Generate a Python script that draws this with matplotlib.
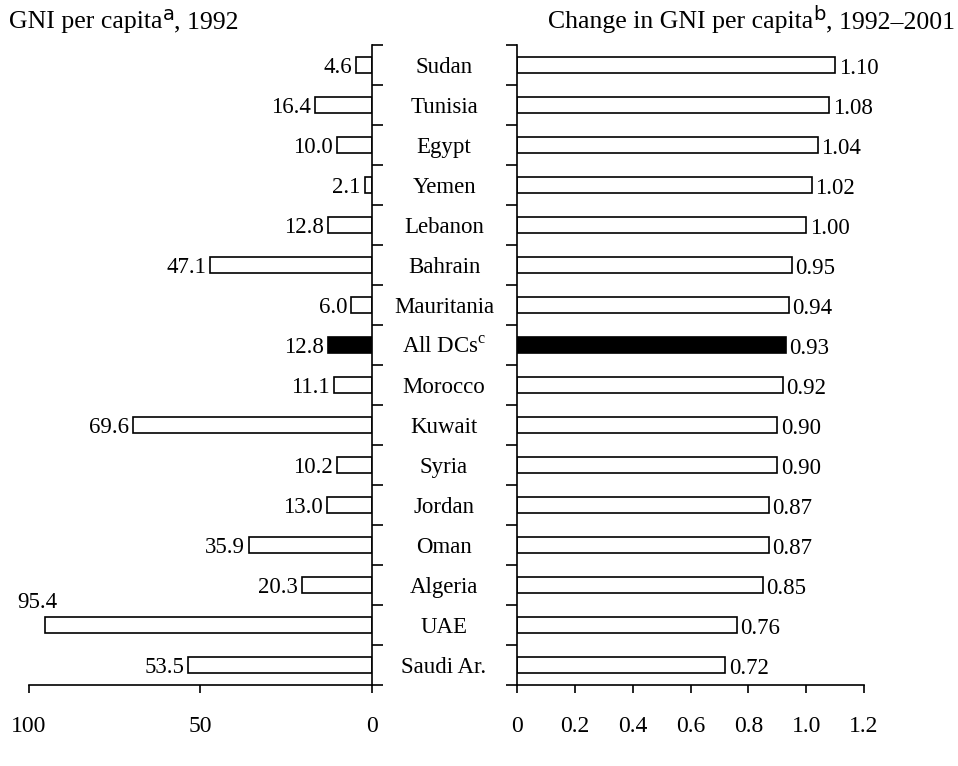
import matplotlib.pyplot as plt
import matplotlib.transforms as mtransforms
import numpy as np

plt.rcParams['font.family'] = 'Liberation Serif'
plt.rcParams['mathtext.fontset'] = 'custom'
plt.rcParams['mathtext.rm'] = 'Liberation Serif'

countries = ['Sudan', 'Tunisia', 'Egypt', 'Yemen', 'Lebanon', 'Bahrain',
             'Mauritania', 'All DCs$^{\\mathrm{c}}$', 'Morocco', 'Kuwait', 'Syria',
             'Jordan', 'Oman', 'Algeria', 'UAE', 'Saudi Ar.']
gni_1992 = [4.6, 16.4, 10.0, 2.1, 12.8, 47.1, 6.0, 12.8, 11.1, 69.6, 10.2,
            13.0, 35.9, 20.3, 95.4, 53.5]
gni_change = [1.10, 1.08, 1.04, 1.02, 1.00, 0.95, 0.94, 0.93, 0.92, 0.90,
              0.90, 0.87, 0.87, 0.85, 0.76, 0.72]
highlight = 7  # All DCs

fig = plt.figure(figsize=(9.58, 7.66), dpi=100)
ax_l = fig.add_axes([0.030, 0.1057, 0.358, 0.8355])
ax_r = fig.add_axes([0.5397, 0.1057, 0.3622, 0.8355])

y = np.arange(len(countries))
colors = ['black' if i == highlight else 'white' for i in y]
fs = 16.5
lw = 1.2

ax_l.barh(y, gni_1992, height=0.42, color=colors, edgecolor='black', linewidth=lw)
ax_r.barh(y, gni_change, height=0.42, color=colors, edgecolor='black', linewidth=lw)

for i, v in enumerate(gni_1992):
    if v > 90:
        ax_l.text(v + 2.0, i - 0.3, f'{v:.1f}', ha='center', va='bottom', fontsize=fs)
    else:
        ax_l.text(v + 1.2, i + 0.05, f'{v:.1f}', ha='right', va='center', fontsize=fs)
for i, v in enumerate(gni_change):
    ax_r.text(v + 0.012, i + 0.08, f'{v:.2f}', ha='left', va='center', fontsize=fs)

for ax in (ax_l, ax_r):
    ax.set_ylim(15.5, -0.5)
    ax.set_yticks(np.arange(-0.5, 16, 1))
    ax.set_yticklabels([])
    ax.spines['top'].set_visible(False)
    ax.tick_params(axis='y', length=8, width=lw, direction='out')
    ax.tick_params(axis='x', length=6, width=lw, direction='out', pad=16, labelsize=17)
    for s in ax.spines.values():
        s.set_linewidth(lw)

ax_l.set_xlim(100, 0)
ax_l.set_xticks([100, 50, 0])
ax_l.spines['left'].set_visible(False)
ax_l.yaxis.tick_right()

ax_r.set_xlim(0, 1.2)
ax_r.set_xticks([0, 0.2, 0.4, 0.6, 0.8, 1.0, 1.2])
ax_r.set_xticklabels(['0', '0.2', '0.4', '0.6', '0.8', '1.0', '1.2'])
ax_r.spines['right'].set_visible(False)

trans = mtransforms.blended_transform_factory(fig.transFigure, ax_l.transData)
for i, name in enumerate(countries):
    ax_l.text(0.4635, i + 0.05, name, transform=trans, ha='center', va='center',
              fontsize=fs, clip_on=False)


# titles with a full-size sans superscript, built piece by piece
def title(parts, x0, align='left'):
    renderer = fig.canvas.get_renderer()
    base_y = 766 - 28  # baseline in pixels
    texts = []
    for s, sup in parts:
        if sup:
            t = fig.text(0, 0, s, fontsize=14, family='DejaVu Sans',
                         va='baseline', transform=None)
        else:
            t = fig.text(0, 0, s, fontsize=18.5, va='baseline', transform=None)
        texts.append((t, sup))
    widths = [t.get_window_extent(renderer).width for t, _ in texts]
    x = x0 if align == 'left' else x0 - sum(widths)
    for (t, sup), w in zip(texts, widths):
        t.set_position((x, base_y + (8 if sup else 0)))
        x += w


title([('GNI per capita', False), ('a', True), (', 1992', False)], 9)
title([('Change in GNI per capita', False), ('b', True),
       (', 1992\u20132001', False)], 955, align='right')

fig.savefig('out.png', dpi=100)
